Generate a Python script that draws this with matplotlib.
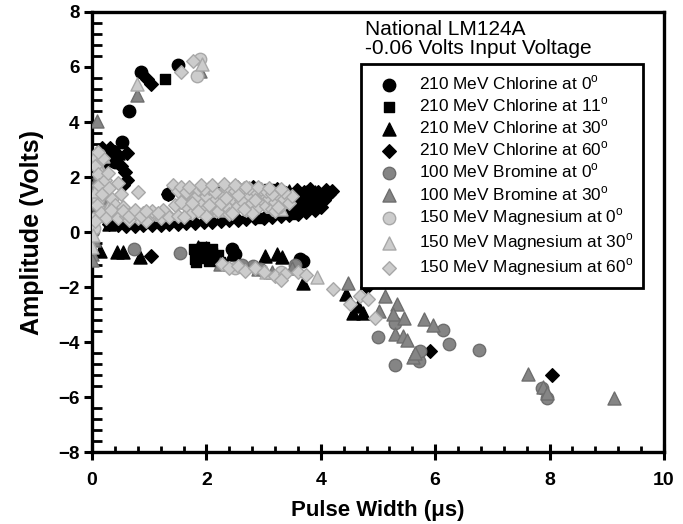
import matplotlib
matplotlib.use("Agg")
import matplotlib.pyplot as plt
from matplotlib.ticker import MultipleLocator

plt.rcParams['font.family'] = ['Liberation Sans', 'DejaVu Sans']
plt.rcParams['mathtext.fontset'] = 'custom'
plt.rcParams['mathtext.rm'] = 'Liberation Sans'

# ---- data: pulse width (us) vs amplitude (V) ----
cl0_x = [0.52, 0.65, 0.86, 1.51, 1.33, 0.40, 2.44, 2.50, 3.64, 3.69, 0.10]
cl0_y = [3.29, 4.39, 5.82, 6.06, 1.38, 2.55, -0.62, -0.80, -0.98, -1.06, 1.90]

cl11_x = [1.28, 1.78, 1.82, 1.85, 1.90, 1.95, 2.00, 2.05, 2.10, 2.15, 2.20, 2.24, 1.80, 1.95, 2.10,
          2.90, 3.10, 3.50, 0.15]
cl11_y = [5.55, -0.60, -1.10, -0.85, -0.65, -0.95, -0.72, -1.05, -0.62, -0.95, -0.85, -1.10, -0.98, -0.55, -0.75,
          0.50, 1.55, 0.64, 2.30]

cl30_x = [0.14, 0.43, 0.55, 0.84, 3.02, 3.23, 3.32, 3.69, 4.45, 4.57, 4.74, 4.65, 0.46, 3.90, 3.45,
          0.20, 2.45, 0.30, 1.85, 2.00]
cl30_y = [-0.68, -0.74, -0.74, -0.92, -0.86, -0.80, -0.92, -1.84, -2.26, -2.94, -2.94, -2.70, 2.86, 1.45, 1.50,
          2.60, -0.80, 0.28, -0.55, -0.58]

cl60_x = [0.96, 1.04, 0.17, 0.31, 0.61, 0.58, 0.61, 0.50, 0.25, 0.40, 0.55, 0.10,
          0.30, 0.45, 0.60, 0.75, 0.90, 1.05, 1.20, 1.35, 1.50, 1.65, 1.80, 1.95, 2.10, 2.25, 2.40,
          2.55, 2.70, 2.85, 3.00, 3.15, 3.30, 3.45, 3.60, 3.75, 3.90, 4.00,
          1.33, 1.75, 2.12, 2.53, 2.76, 2.82, 3.10, 3.23, 3.40, 3.58, 3.76, 3.81, 4.10, 4.20,
          3.70, 3.90, 4.05, 3.55, 3.85, 3.30, 3.60, 4.00,
          3.45, 3.65, 3.80, 3.95, 4.10, 3.50, 3.70, 3.95, 4.15,
          1.04, 4.90, 4.80, 5.91, 8.05]
cl60_y = [5.55, 5.37, 3.05, 3.05, 2.86, 2.19, 1.89, 2.40, 2.70, 2.90, 1.70, 2.50,
          0.30, 0.25, 0.22, 0.22, 0.24, 0.25, 0.26, 0.28, 0.30, 0.32, 0.33, 0.35, 0.37, 0.40, 0.42,
          0.45, 0.48, 0.50, 0.52, 0.55, 0.58, 0.62, 0.66, 0.72, 0.80, 0.90,
          1.40, 1.50, 1.64, 1.64, 1.45, 1.64, 1.45, 1.58, 1.41, 1.52, 1.45, 1.55, 1.52, 1.50,
          1.10, 1.25, 1.15, 0.95, 1.00, 1.25, 1.30, 1.35,
          0.85, 0.90, 1.20, 1.10, 1.30, 1.15, 1.45, 1.45, 1.40,
          -0.86, -1.60, -2.00, -4.32, -5.19]

br0_x = [0.74, 1.54, 2.81, 2.94, 5.29, 5.00, 6.13, 6.25, 5.29, 5.72, 5.73, 6.77, 7.87, 7.95, 0.05,
         3.55, 0.02, 2.62]
br0_y = [-0.62, -0.77, -1.23, -1.34, -3.30, -3.83, -3.58, -4.07, -4.85, -4.70, -4.34, -4.30, -5.68, -6.05, 1.00,
         -1.20, 0.05, -1.20]

br30_x = [0.08, 0.78, 1.88, 0.00, 0.00, 4.48, 5.12, 5.02, 5.33, 5.27, 5.45, 5.30, 5.43, 5.51,
          5.80, 5.96, 5.62, 5.65, 7.62, 7.88, 7.95, 9.12, 0.10, 0.05, 2.24, 3.50, 0.25, 0.03, 0.12,
          2.90, 3.15]
br30_y = [4.02, 5.00, 5.85, -0.80, -1.00, -1.84, -2.33, -2.87, -2.63, -2.97, -3.12, -3.71, -3.79, -3.91,
          -3.18, -3.39, -4.56, -4.40, -5.17, -5.62, -5.87, -6.03, 2.86, 1.80, -1.15, -1.30, 1.20, -0.30, 2.20,
          -1.35, -1.45]

mg0_x = [1.83, 1.88, 0.05, 0.10, 0.20, 0.30, 1.00, 2.50, 0.08, 2.30, 3.30, 0.03]
mg0_y = [5.67, 6.30, 0.50, 1.20, 2.00, 0.80, 0.60, -1.30, 2.70, 1.00, -1.45, 0.15]

mg30_x = [0.78, 1.93, 0.00, 3.93, 0.10, 0.05, 0.30, 2.20, 3.30, 0.15, 1.60, 0.02, 0.20, 2.70, 3.05]
mg30_y = [5.40, 6.10, -0.56, -1.65, 2.50, 1.50, 1.00, 0.80, 0.85, 2.20, 1.10, -0.10, 2.75, 1.20, -1.45]

mg60_x = [1.55, 1.77, 0.81,
          0.05, 0.10, 0.12, 0.18, 0.22, 0.28, 0.30, 0.35, 0.40, 0.45, 0.50, 0.55, 0.08, 0.15, 0.25, 0.33,
          0.45, 0.60, 0.05, 0.20, 0.10,
          0.70, 0.80, 0.90, 1.00, 1.10, 1.20, 1.30, 1.05, 0.65, 0.95, 1.25, 1.35,
          1.41, 1.50, 1.55, 1.60, 1.65, 1.70, 1.75, 1.80, 1.85, 1.90, 1.95, 2.00, 2.05, 2.10, 2.15, 2.20,
          2.25, 2.30, 2.35, 2.40, 2.45, 2.50, 2.55, 2.60, 2.65, 2.70, 2.75, 2.80, 2.85, 2.90, 2.95, 3.00,
          3.05, 3.10, 3.15, 3.20, 3.25, 3.30, 3.35, 3.45, 3.50, 1.50, 1.60, 2.00, 2.40, 2.80, 3.20,
          0.55, 0.65, 0.75, 0.85, 0.95, 1.15, 1.45, 1.55, 1.65, 1.75, 1.85, 1.95, 2.05, 2.15, 2.25,
          2.35, 2.45, 2.55, 2.65, 2.75, 2.85, 2.95, 3.05, 3.15, 3.25, 3.35, 1.70, 1.90, 2.10, 2.30,
          2.50, 2.70, 2.90, 3.10, 3.30,
          2.27, 2.40, 2.55, 2.67, 2.85, 3.00, 3.20, 3.37, 3.30, 3.60, 3.75, 4.22, 4.51, 4.69, 4.83, 4.95]
mg60_y = [5.82, 6.22, 1.46,
          2.40, 2.10, 1.70, 1.40, 1.90, 2.14, 1.60, 1.20, 1.00, 1.78, 1.40, 0.90, 1.00, 0.70, 0.50, 0.80,
          0.50, 0.60, 0.40, 2.70, 2.90,
          0.65, 0.50, 0.70, 0.55, 0.65, 0.50, 0.70, 0.75, 0.45, 0.40, 0.80, 0.55,
          1.70, 1.50, 1.65, 1.20, 0.95, 1.40, 0.70, 1.25, 1.55, 1.00, 0.80, 1.30, 1.60, 0.90, 1.15, 0.75,
          1.40, 1.00, 1.60, 0.85, 1.25, 1.50, 0.95, 1.15, 1.60, 0.80, 1.35, 1.05, 1.50, 0.90, 1.20, 1.40,
          0.95, 1.25, 0.85, 1.10, 1.35, 0.95, 1.20, 1.05, 1.30, 0.60, 0.55, 0.60, 0.65, 0.70, 0.75,
          0.75, 0.60, 0.80, 0.60, 0.75, 0.70, 1.00, 1.10, 1.45, 1.05, 0.75, 1.55, 1.00, 1.45, 1.05,
          1.25, 0.70, 1.35, 0.85, 1.60, 1.15, 1.55, 1.50, 1.40, 0.90, 1.45, 1.65, 1.70, 1.70, 1.75,
          1.70, 1.65, 1.65, 1.60, 1.55,
          -1.15, -1.30, -1.25, -1.40, -1.30, -1.45, -1.60, -1.52, -1.75, -1.45, -1.55, -2.08, -2.63, -2.33, -2.45, -3.12]

deg = r'$^{\mathrm{o}}$'
series = [
    (cl0_x, cl0_y, 'o', '#000000', '#000000', 'Chlorine', '210', '0'),
    (cl11_x, cl11_y, 's', '#000000', '#000000', 'Chlorine', '210', '11'),
    (cl30_x, cl30_y, '^', '#000000', '#000000', 'Chlorine', '210', '30'),
    (cl60_x, cl60_y, 'D', '#000000', '#000000', 'Chlorine', '210', '60'),
    (br0_x, br0_y, 'o', '#858585', '#6e6e6e', 'Bromine', '100', '0'),
    (br30_x, br30_y, '^', '#858585', '#6e6e6e', 'Bromine', '100', '30'),
    (mg0_x, mg0_y, 'o', '#cccccc', '#a8a8a8', 'Magnesium', '150', '0'),
    (mg30_x, mg30_y, '^', '#cccccc', '#a8a8a8', 'Magnesium', '150', '30'),
    (mg60_x, mg60_y, 'D', '#cccccc', '#a8a8a8', 'Magnesium', '150', '60'),
]

fig = plt.figure(figsize=(6.83, 5.24), dpi=100)
ax = fig.add_axes([0.1347, 0.1374, 0.8373, 0.8397])

sizes = {'o': 80, 's': 62, '^': 88, 'D': 48}
for xs, ys, m, fc, ec, ion, energy, ang in series:
    ax.scatter(xs, ys, marker=m, s=sizes[m], facecolor=fc, edgecolor=ec,
               linewidths=1.0, label=f'{energy} MeV {ion} at {ang}{deg}', zorder=3)

ax.set_xlim(0, 10)
ax.set_ylim(-8, 8)
ax.xaxis.set_major_locator(MultipleLocator(2))
ax.xaxis.set_minor_locator(MultipleLocator(0.4))
ax.yaxis.set_major_locator(MultipleLocator(2))
ax.yaxis.set_minor_locator(MultipleLocator(0.4))

ax.tick_params(axis='x', which='major', direction='inout', length=11, width=2.2,
               labelsize=14, pad=9)
ax.tick_params(axis='x', which='minor', direction='in', length=4, width=2)
ax.tick_params(axis='y', which='major', direction='out', length=6, width=2.2,
               labelsize=13.5, pad=3)
ax.tick_params(axis='y', which='minor', direction='in', length=7, width=2)
for lab in ax.get_xticklabels() + ax.get_yticklabels():
    lab.set_fontweight('bold')
for sp in ax.spines.values():
    sp.set_linewidth(2.4)

ax.set_xlabel('Pulse Width (\u03bcs)', fontsize=16, fontweight='bold', labelpad=8)
ax.set_ylabel('Amplitude (Volts)', fontsize=18, fontweight='bold', labelpad=10)

ax.text(0.477, 0.982, 'National LM124A\n-0.06 Volts Input Voltage', transform=ax.transAxes,
        ha='left', va='top', fontsize=15, linespacing=1.0)

leg = ax.legend(loc='upper left', bbox_to_anchor=(0.4705, 0.882), fontsize=12.4,
                frameon=True, fancybox=False, edgecolor='#000000', framealpha=1,
                borderpad=0.55, labelspacing=0.2, handletextpad=0.7, borderaxespad=0,
                handlelength=2.1)
leg.get_frame().set_linewidth(2.0)
leg.set_zorder(5)

fig.savefig('out.png', dpi=100)
